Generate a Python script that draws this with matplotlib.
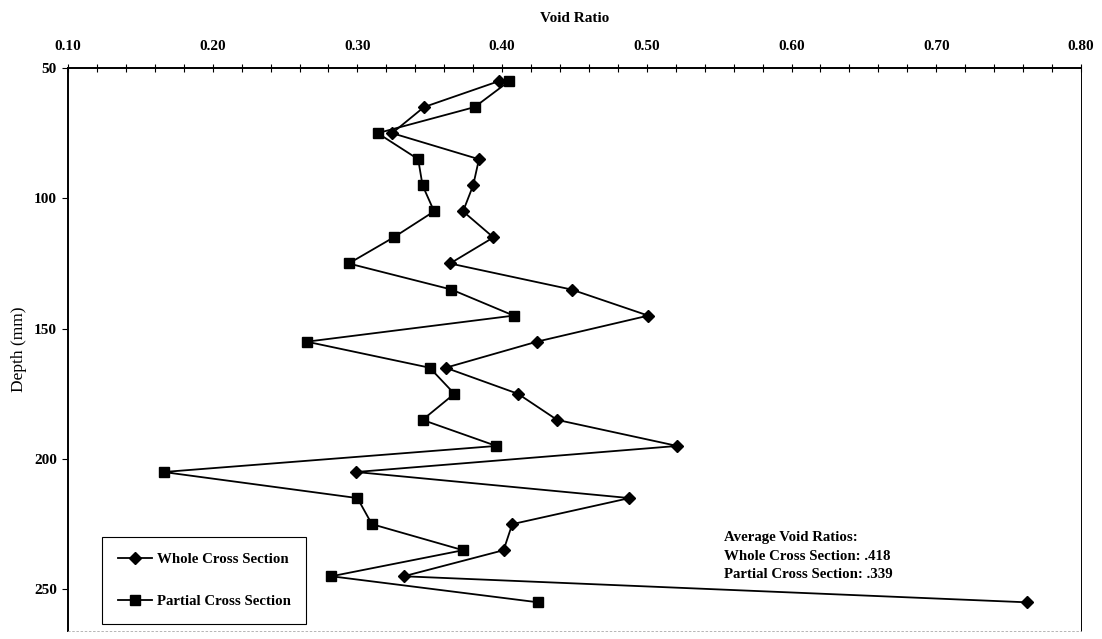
import matplotlib
matplotlib.use("Agg")
import matplotlib.pyplot as plt
from matplotlib.ticker import MultipleLocator, FormatStrFormatter

plt.rcParams['font.family'] = ['Liberation Serif', 'DejaVu Serif']

# depth of each slice (mm)
depth = [55, 65, 75, 85, 95, 105, 115, 125, 135, 145, 155,
         165, 175, 185, 195, 205, 215, 225, 235, 245, 255]

# void ratios
whole = [0.398, 0.346, 0.324, 0.384, 0.380, 0.373, 0.394, 0.364, 0.448, 0.501, 0.424,
         0.361, 0.411, 0.438, 0.521, 0.299, 0.488, 0.407, 0.401, 0.332, 0.763]
partial = [0.405, 0.381, 0.314, 0.342, 0.345, 0.353, 0.325, 0.294, 0.365, 0.408, 0.265,
           0.350, 0.367, 0.345, 0.396, 0.166, 0.300, 0.310, 0.373, 0.282, 0.425]

series_names = ['Whole Cross Section', 'Partial Cross Section']
note_lines = ['Average Void Ratios:',
              'Whole Cross Section: .418',
              'Partial Cross Section: .339']

fig = plt.figure(figsize=(11.02, 6.39), dpi=100)
ax = fig.add_axes([0.0617, 0.0125, 0.9192, 0.8811])

ax.plot(whole, depth, color='black', lw=1.3, marker='D', ms=6.5, label=series_names[0])
ax.plot(partial, depth, color='black', lw=1.3, marker='s', ms=7.5, label=series_names[1])

ax.set_xlim(0.10, 0.80)
ax.set_ylim(266, 50)

# x axis on top
ax.xaxis.tick_top()
ax.xaxis.set_label_position('top')
ax.xaxis.set_major_locator(MultipleLocator(0.1))
ax.xaxis.set_minor_locator(MultipleLocator(0.02))
ax.xaxis.set_major_formatter(FormatStrFormatter('%.2f'))
ax.tick_params(axis='x', which='both', direction='inout', length=6, width=0.8,
               pad=8, labelsize=11)
ax.set_xlabel('Void Ratio', fontsize=11, fontweight='bold', labelpad=13)

ax.yaxis.set_major_locator(MultipleLocator(50))
ax.tick_params(axis='y', which='major', direction='out', length=4, width=0.8,
               pad=4, labelsize=11)
ax.set_ylabel('Depth (mm)', fontsize=12.5, labelpad=5)

for lab in ax.get_xticklabels() + ax.get_yticklabels():
    lab.set_fontweight('bold')

ax.spines['top'].set_linewidth(1.4)
ax.spines['left'].set_linewidth(1.4)
ax.spines['right'].set_linewidth(0.7)
ax.spines['right'].set_linestyle((0, (3, 1)))
ax.spines['bottom'].set_linewidth(0.6)
ax.spines['bottom'].set_color('#aaaaaa')
ax.spines['bottom'].set_linestyle((0, (2, 3)))

leg = ax.legend(loc='lower left', bbox_to_anchor=(0.0336, 0.0124), borderaxespad=0,
                fancybox=False, edgecolor='black', framealpha=1,
                prop={'family': 'Liberation Serif', 'weight': 'bold', 'size': 10.75},
                handlelength=2.3, handletextpad=0.3, labelspacing=1.95,
                borderpad=1.05)
leg.get_frame().set_linewidth(0.8)

ax.text(0.6476, 0.1775, '\n'.join(note_lines), transform=ax.transAxes,
        ha='left', va='top', fontsize=10.75, fontweight='bold', linespacing=1.55)

fig.savefig('out.png', dpi=100)
